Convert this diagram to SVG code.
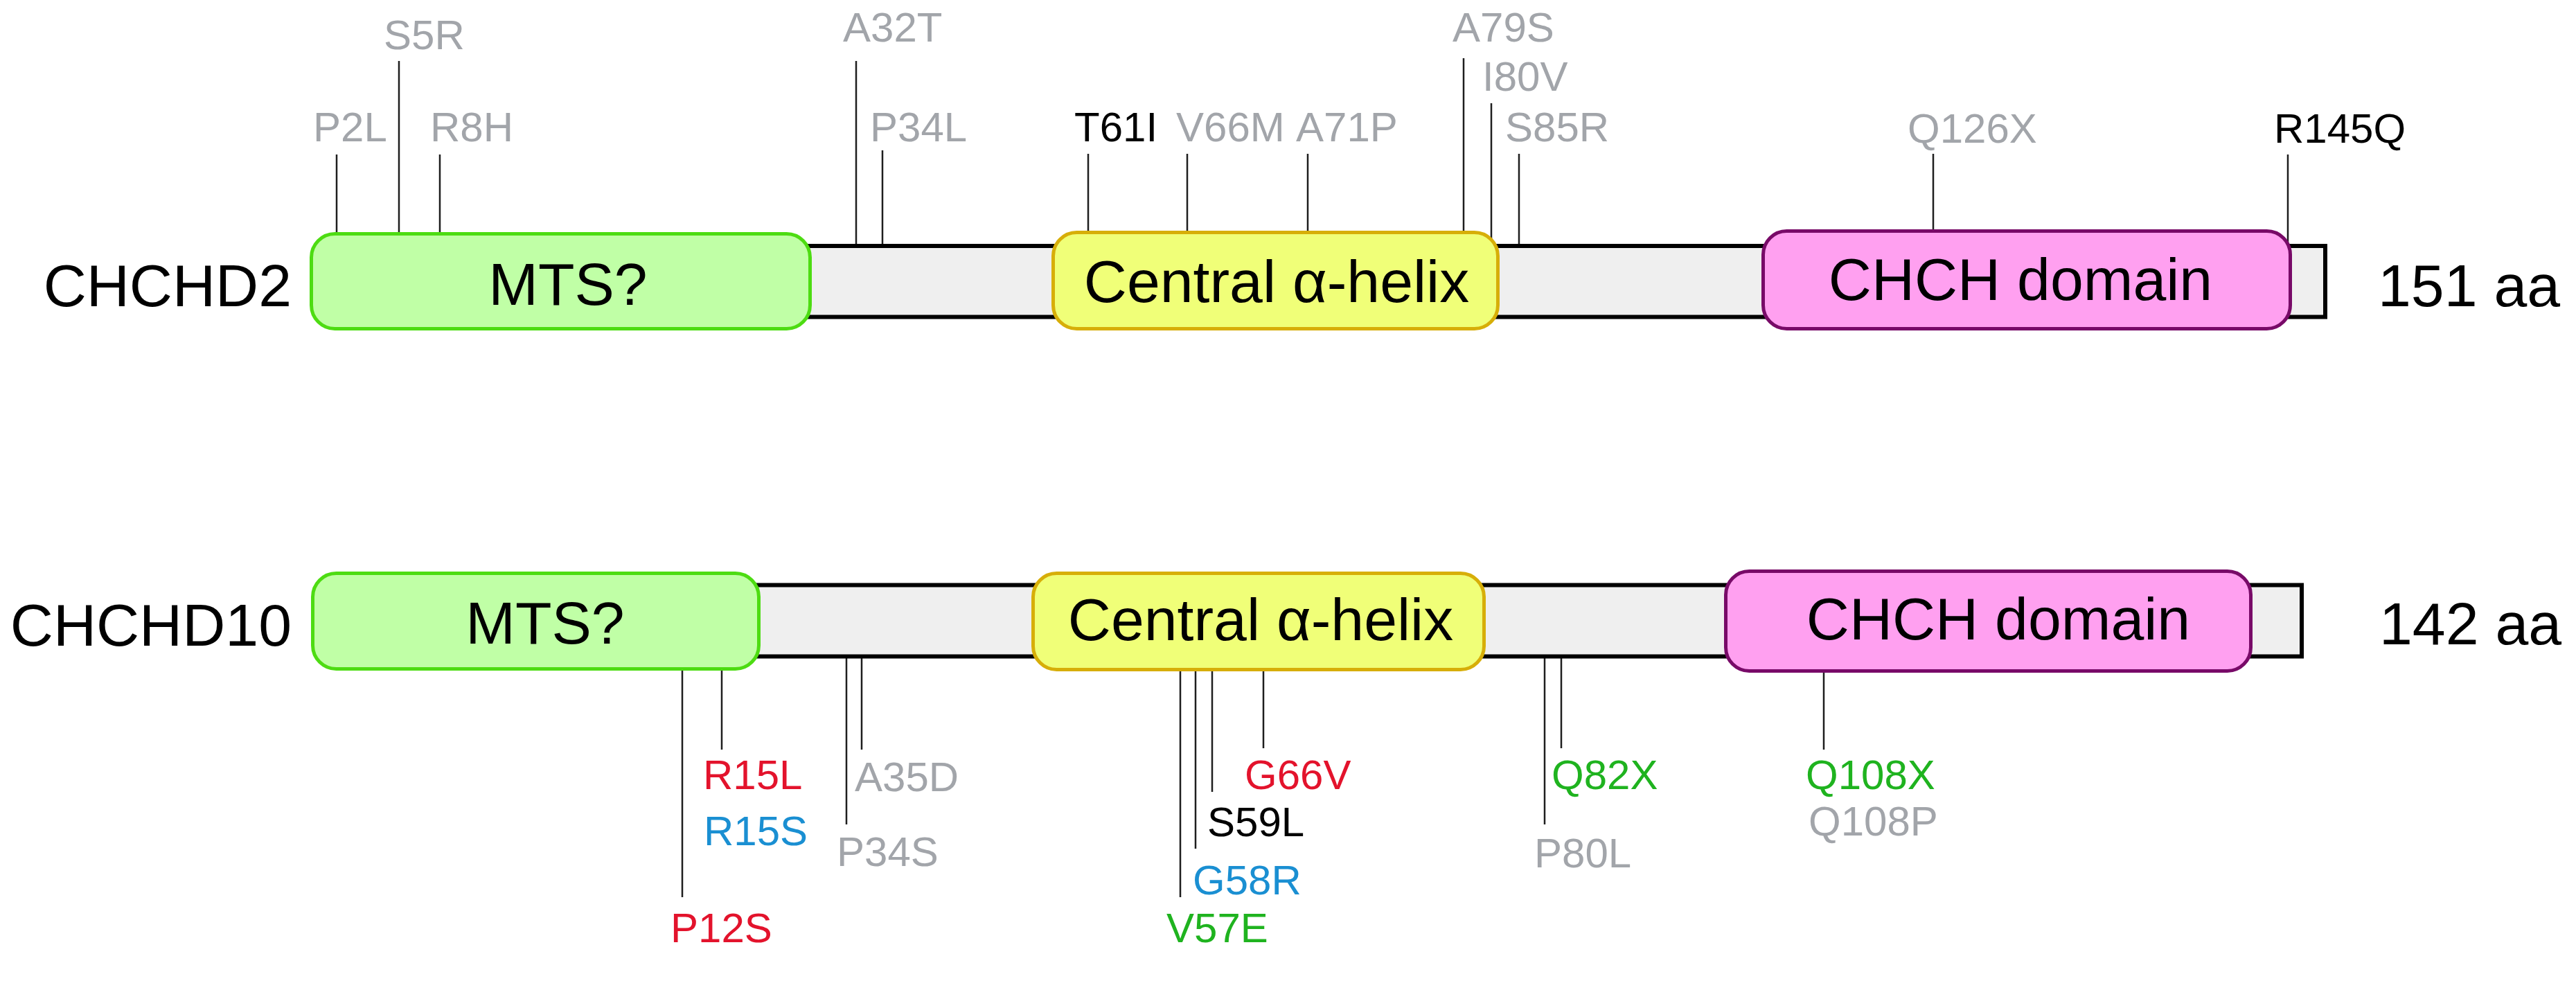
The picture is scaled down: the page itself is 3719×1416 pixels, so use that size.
<svg xmlns="http://www.w3.org/2000/svg" width="3719" height="1416" viewBox="0 0 3719 1416">
<style>
text{font-family:"Liberation Sans",Arial,sans-serif}
.big{font-size:86px;fill:#000}
.mid{text-anchor:middle}
.m{font-size:60px}
.g{fill:#a2a5aa}
.k{fill:#000}
.r{fill:#e3132c}
.b{fill:#1a8fd2}
.gr{fill:#1fb31f}
.bar{fill:#efefef;stroke:#000;stroke-width:6}
.mts{fill:#c0ffa6;stroke:#4ddc12;stroke-width:5}
.hel{fill:#f0ff78;stroke:#d7ae08;stroke-width:5}
.chch{fill:#ffa0f0;stroke:#780a68;stroke-width:5}
.ln line{stroke:#1e1e1e;stroke-width:2.5}
</style>
<rect width="3719" height="1416" fill="#fff"/>
<g id="connectors" class="ln">
<line x1="486" y1="223" x2="486" y2="336"/>
<line x1="576" y1="88" x2="576" y2="336"/>
<line x1="635" y1="223" x2="635" y2="336"/>
<line x1="1236" y1="88" x2="1236" y2="354"/>
<line x1="1274" y1="217" x2="1274" y2="354"/>
<line x1="1571" y1="222" x2="1571" y2="336"/>
<line x1="1714" y1="222" x2="1714" y2="336"/>
<line x1="1888" y1="222" x2="1888" y2="336"/>
<line x1="2113" y1="84" x2="2113" y2="336"/>
<line x1="2153" y1="149" x2="2153" y2="354"/>
<line x1="2193" y1="222" x2="2193" y2="354"/>
<line x1="2791" y1="222" x2="2791" y2="334"/>
<line x1="3303" y1="223" x2="3303" y2="354"/>
<line x1="985" y1="966" x2="985" y2="1295"/>
<line x1="1042" y1="966" x2="1042" y2="1082"/>
<line x1="1222" y1="948" x2="1222" y2="1190"/>
<line x1="1244" y1="948" x2="1244" y2="1082"/>
<line x1="1704" y1="967" x2="1704" y2="1295"/>
<line x1="1726" y1="967" x2="1726" y2="1225"/>
<line x1="1750" y1="967" x2="1750" y2="1143"/>
<line x1="1824" y1="967" x2="1824" y2="1080"/>
<line x1="2230" y1="948" x2="2230" y2="1190"/>
<line x1="2254" y1="948" x2="2254" y2="1080"/>
<line x1="2633" y1="969" x2="2633" y2="1082"/>
</g>
<g id="chchd2">
<text class="big" x="421" y="442" text-anchor="end">CHCHD2</text>
<rect class="bar" x="470" y="355" width="2887" height="102.5"/>
<g id="chchd2-mts"><rect class="mts" x="449.5" y="337.5" width="720" height="137" rx="34"/><text class="big mid" x="820" y="440">MTS?</text></g>
<g id="chchd2-helix"><rect class="hel" x="1520.5" y="335.5" width="642" height="139" rx="34"/><text class="big mid" x="1843" y="436">Central α-helix</text></g>
<g id="chchd2-chch"><rect class="chch" x="2545.5" y="333.5" width="761" height="141" rx="34"/><text class="big mid" x="2917" y="433">CHCH domain</text></g>
<text class="big" x="3433" y="442">151 aa</text>
<g id="chchd2-mutations" class="m">
<text class="g" x="452" y="204">P2L</text>
<text class="g" x="554" y="71">S5R</text>
<text class="g" x="621" y="204">R8H</text>
<text class="g" x="1217" y="60">A32T</text>
<text class="g" x="1256" y="204">P34L</text>
<text class="k" x="1551" y="204">T61I</text>
<text class="g" x="1698" y="204">V66M</text>
<text class="g" x="1871" y="204">A71P</text>
<text class="g" x="2097" y="60">A79S</text>
<text class="g" x="2140" y="131">I80V</text>
<text class="g" x="2173" y="204">S85R</text>
<text class="g" x="2754" y="206">Q126X</text>
<text class="k" x="3283" y="206">R145Q</text>
</g>
</g>
<g id="chchd10">
<text class="big" x="421" y="932" text-anchor="end">CHCHD10</text>
<rect class="bar" x="470" y="844.5" width="2853" height="103"/>
<g id="chchd10-mts"><rect class="mts" x="451.5" y="827.5" width="644" height="138" rx="34"/><text class="big mid" x="787" y="929">MTS?</text></g>
<g id="chchd10-helix"><rect class="hel" x="1491.5" y="827.5" width="651" height="139" rx="34"/><text class="big mid" x="1820" y="924">Central α-helix</text></g>
<g id="chchd10-chch"><rect class="chch" x="2491.5" y="824.5" width="758" height="144" rx="34"/><text class="big mid" x="2885" y="923">CHCH domain</text></g>
<text class="big" x="3435" y="930">142 aa</text>
<g id="chchd10-mutations" class="m">
<text class="r" x="968" y="1360">P12S</text>
<text class="r" x="1015" y="1139">R15L</text>
<text class="b" x="1016" y="1220">R15S</text>
<text class="g" x="1234" y="1142">A35D</text>
<text class="g" x="1208" y="1250">P34S</text>
<text class="r" x="1797" y="1139">G66V</text>
<text class="k" x="1743" y="1207">S59L</text>
<text class="b" x="1722" y="1291">G58R</text>
<text class="gr" x="1684" y="1360">V57E</text>
<text class="gr" x="2240" y="1139">Q82X</text>
<text class="g" x="2215" y="1252">P80L</text>
<text class="gr" x="2607" y="1139">Q108X</text>
<text class="g" x="2611" y="1206">Q108P</text>
</g>
</g>
</svg>
